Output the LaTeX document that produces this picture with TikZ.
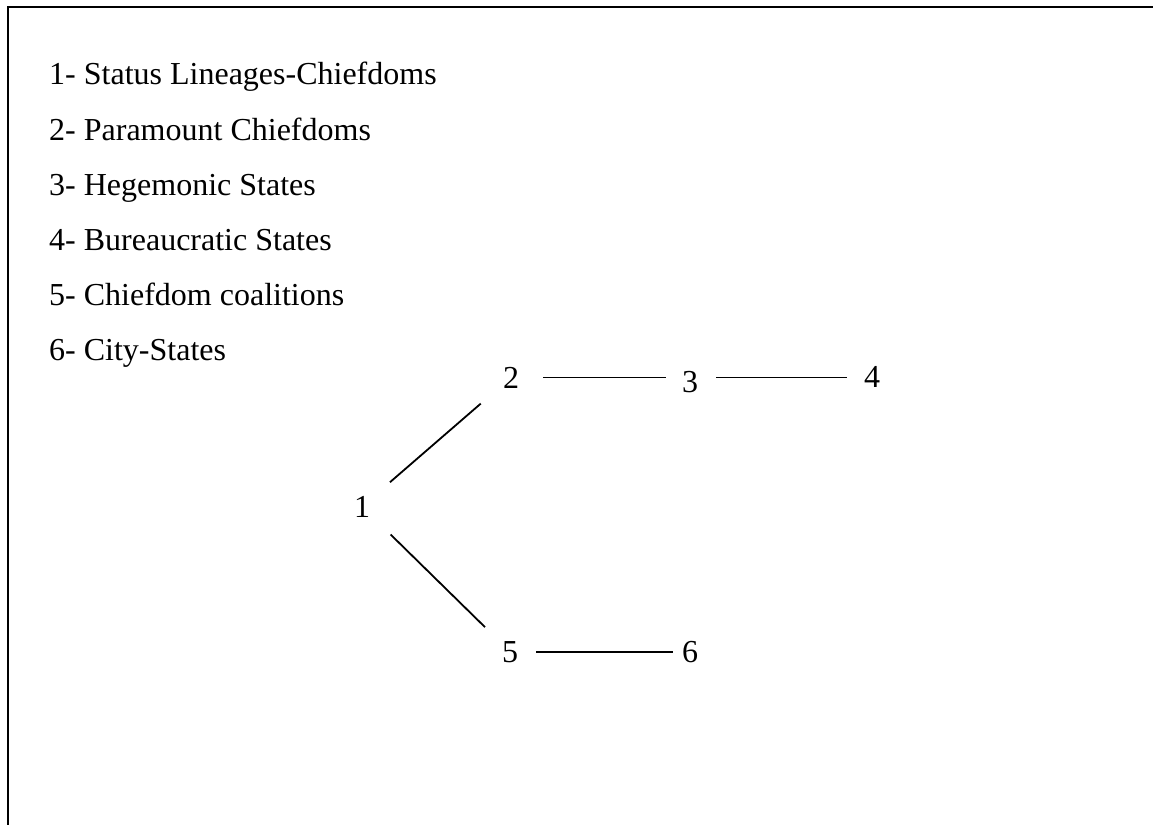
\documentclass[tikz,border=0pt]{standalone}
\usepackage{fontspec}
\setmainfont{Liberation Serif}
\begin{document}
\begin{tikzpicture}[x=1pt,y=-1pt,
  every node/.style={inner sep=0pt,font=\fontsize{32}{38}\selectfont},
  legend/.style={anchor=base west},
  num/.style={anchor=base},
  link/.style={line width=1.8pt}]
\useasboundingbox (0,0) rectangle (1153,824);
% page frame (right and bottom edges run off the page)
\draw[line width=2pt] (8,7) rectangle (1170,840);
% legend
\node[legend] (l1) at (49,85)  {1- Status Lineages-Chiefdoms};
\node[legend] (l2) at (49,140) {2- Paramount Chiefdoms};
\node[legend] (l3) at (49,195) {3- Hegemonic States};
\node[legend] (l4) at (49,250) {4- Bureaucratic States};
\node[legend] (l5) at (49,305) {5- Chiefdom coalitions};
\node[legend] (l6) at (49,360) {6- City-States};
% numbered stages
\node[num] (n1) at (362,517) {1};
\node[num] (n2) at (511,388) {2};
\node[num] (n3) at (690,392) {3};
\node[num] (n4) at (872,387) {4};
\node[num] (n5) at (510,662) {5};
\node[num] (n6) at (690,662) {6};
% connectors
\draw[link,shorten <=37pt,shorten >=40pt] (n1.center) -- (n2.center);
\draw[link,shorten <=40pt,shorten >=35pt] (n1.center) -- (n5.center);
\draw[link,shorten <=24pt,shorten >=16pt] (n2.east) -- (n2.east -| n3.west);
\draw[link,shorten <=18pt,shorten >=17pt] (n3.east |- n2.east) -- (n4.west |- n2.east);
\draw[link,shorten <=18pt,shorten >=9pt] (n5.east) -- (n5.east -| n6.west);
\end{tikzpicture}
\end{document}
